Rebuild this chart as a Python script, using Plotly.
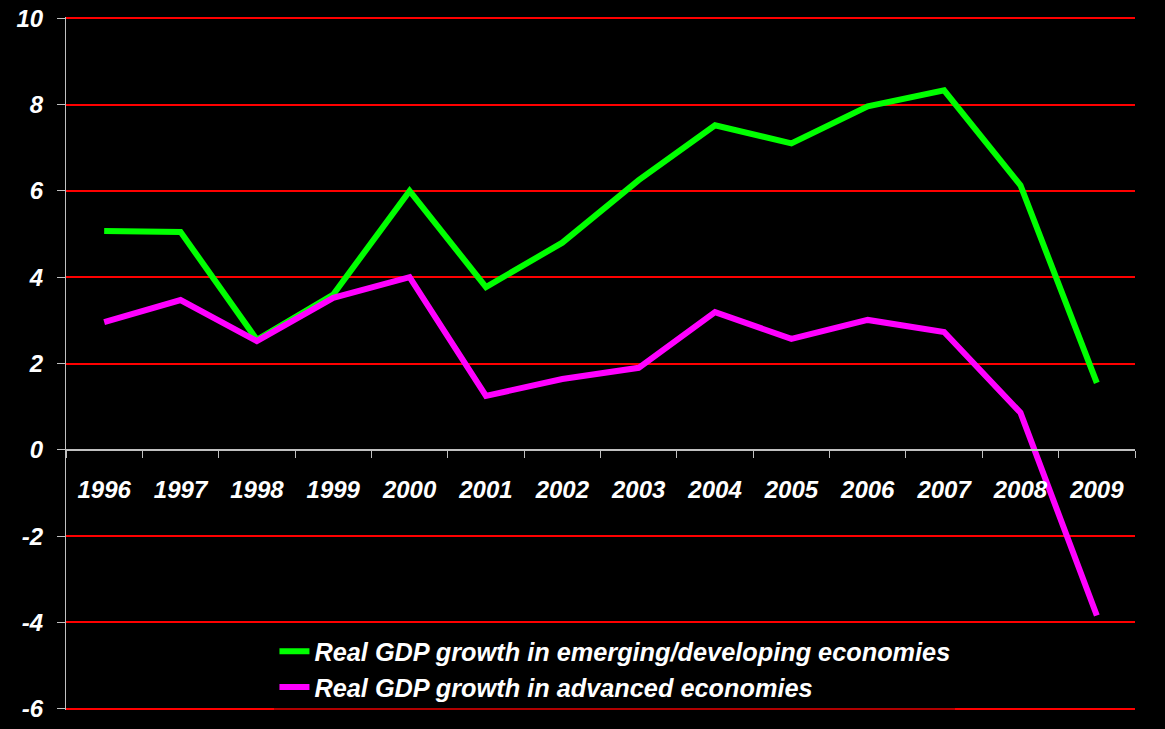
import plotly.graph_objects as go

years = ["1996", "1997", "1998", "1999", "2000", "2001", "2002",
         "2003", "2004", "2005", "2006", "2007", "2008", "2009"]
emerging = [5.07, 5.05, 2.55, 3.6, 6.0, 3.77, 4.8, 6.25, 7.52, 7.1, 7.96, 8.33, 6.13, 1.55]
advanced = [2.96, 3.47, 2.52, 3.52, 4.0, 1.25, 1.64, 1.9, 3.19, 2.57, 3.01, 2.73, 0.86, -3.84]
y_ticks = [10, 8, 6, 4, 2, 0, -2, -4, -6]
y_ticktext = ["10", "8", "6", "4", "2", "0", "-2", "-4", "-6"]

FONT = "Liberation Sans, Arial, sans-serif"

fig = go.Figure()
fig.add_trace(go.Scatter(x=years, y=emerging, mode="lines",
                         name="Real GDP growth in emerging/developing economies",
                         line=dict(color="#00ff00", width=6)))
fig.add_trace(go.Scatter(x=years, y=advanced, mode="lines",
                         name="Real GDP growth in advanced economies",
                         line=dict(color="#ff00ff", width=6)))

y_min, y_max = -6.03, 10.03
fig.update_layout(
    width=1165, height=729,
    paper_bgcolor="black", plot_bgcolor="black",
    margin=dict(l=66, r=30, t=17, b=19, autoexpand=False),
    font=dict(family=FONT, color="white"),
    showlegend=True,
    legend=dict(x=0.195, y=0.118, xanchor="left", yanchor="top",
                bgcolor="rgba(0,0,0,0.3)", borderwidth=0,
                font=dict(family=FONT, size=25.3, color="white", weight="bold", style="italic")),
    xaxis=dict(type="category", anchor="free", automargin=False,
               position=(0 - y_min) / (y_max - y_min),
               showline=True, linecolor="#c0c0c0", linewidth=2,
               showgrid=False, ticks="outside", tickson="boundaries",
               ticklen=7, tickcolor="#c0c0c0", tickwidth=1,
               ticklabelstandoff=18,
               tickfont=dict(family=FONT, size=24, color="white", weight="bold", style="italic"),
               range=[-0.5, len(years) - 0.5]),
    yaxis=dict(range=[y_min, y_max], tickvals=y_ticks, ticktext=y_ticktext,
               automargin=False,
               showgrid=True, gridcolor="#ff0000", gridwidth=2,
               zeroline=True, zerolinecolor="#c0c0c0", zerolinewidth=2,
               showline=True, linecolor="#c0c0c0", linewidth=1,
               ticks="outside", ticklen=8, tickcolor="#c0c0c0",
               ticklabelstandoff=9,
               tickfont=dict(family=FONT, size=24, color="white", weight="bold", style="italic")),
)

fig.write_html("out.html", config={"displayModeBar": False},
               post_script="document.body.style.margin='0';document.body.style.background='black';document.body.style.overflow='hidden';")
